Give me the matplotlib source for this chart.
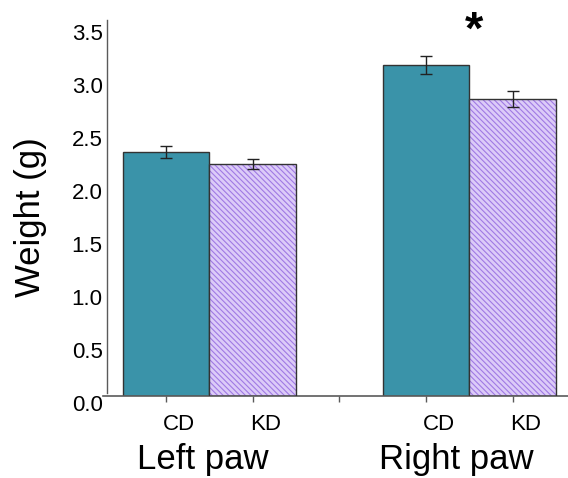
import matplotlib
matplotlib.use("Agg")
import matplotlib.pyplot as plt
from matplotlib.transforms import ScaledTranslation, blended_transform_factory
import numpy as np

plt.rcParams['font.family'] = ['Liberation Sans', 'DejaVu Sans']
plt.rcParams['hatch.linewidth'] = 0.8

groups = ["Left paw", "Right paw"]
conditions = ["CD", "KD"]
cd_means = [2.30, 3.12]
kd_means = [2.19, 2.80]
cd_err = [0.058, 0.082]
kd_err = [0.046, 0.077]
y_ticks = [0.0, 0.5, 1.0, 1.5, 2.0, 2.5, 3.0, 3.5]
x_tick_labels = ["CD", "KD", "", "CD", "KD"]

teal = "#3a93a9"
lav_fill = "#dccbf8"
lav_hatch = "#a07ae4"
edge = "#333333"
axis_gray = "#5a5a5a"

fig = plt.figure(figsize=(5.68, 4.78), dpi=100)
ax = fig.add_axes([103/568, 82/478, 465/568, 376/478])

cd_x = np.array([0, 3])
kd_x = np.array([1, 4])

ax.bar(cd_x, cd_means, width=1.0, color=teal, edgecolor=edge, linewidth=1.0, zorder=2)
ax.bar(kd_x, kd_means, width=1.0, color=lav_fill, edgecolor=lav_hatch, hatch='\\\\\\\\\\\\', linewidth=0, zorder=2)
ax.bar(kd_x, kd_means, width=1.0, fill=False, edgecolor=edge, linewidth=1.0, zorder=3)

ax.errorbar(cd_x, cd_means, yerr=cd_err, fmt='none', ecolor='#222222', elinewidth=1.0, capsize=4, capthick=1.0, zorder=4)
ax.errorbar(kd_x, kd_means, yerr=kd_err, fmt='none', ecolor='#222222', elinewidth=1.0, capsize=4, capthick=1.0, zorder=4)

ax.set_xlim(-0.727, 4.64)
ax.set_ylim(0, 3.544)

for s in ['top', 'right']:
    ax.spines[s].set_visible(False)
ax.spines['left'].set_position(('outward', -3.7 * 72 / 100))
ax.spines['left'].set_bounds(0.028, 3.544)
ax.spines['left'].set_color(axis_gray)
ax.spines['left'].set_linewidth(1.0)
ax.spines['bottom'].set_color(axis_gray)
ax.spines['bottom'].set_linewidth(1.2)

ax.set_yticks(y_ticks)
ax.set_yticklabels([f"{v:.1f}" for v in y_ticks])
ax.tick_params(axis='y', length=0, pad=2.9, labelsize=16)

ax.set_xticks(range(len(x_tick_labels)))
ax.set_xticklabels(x_tick_labels)
ax.tick_params(axis='x', direction='out', length=4, width=1.0, color=axis_gray, pad=9, labelsize=16)

for t in ax.yaxis.get_major_ticks():
    t.label1.set_transform(t.label1.get_transform() + ScaledTranslation(0, -7/100, fig.dpi_scale_trans))
for t in ax.xaxis.get_major_ticks():
    t.label1.set_transform(t.label1.get_transform() + ScaledTranslation(13/100, 0, fig.dpi_scale_trans))

trans = blended_transform_factory(ax.transData, ax.transAxes)
group_x = [0.42, 3.355]
for gx, g in zip(group_x, groups):
    ax.text(gx, -0.1676, g, transform=trans, ha='center', va='center', fontsize=25, clip_on=False)

ax.text(3.555, 1.0 - (32 - 20) / 376, "*", transform=trans,
        ha='center', va='center', fontsize=34, fontweight='bold', clip_on=False)

fig.text(31/568, 1 - 217/478, "Weight (g)", rotation=90, ha='center', va='center', fontsize=25)

fig.savefig("out.png", dpi=100)
